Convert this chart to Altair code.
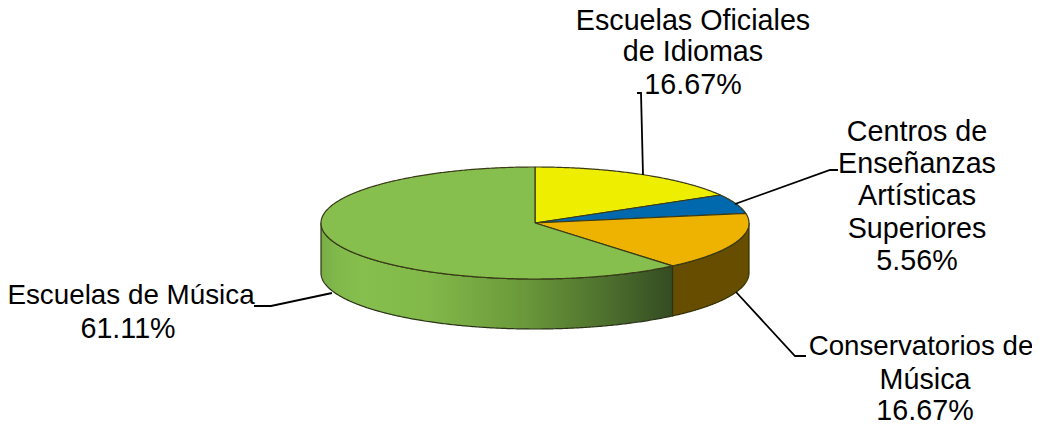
import numpy as np
import pandas as pd
import altair as alt

categories = ["Escuelas Oficiales de Idiomas", "Centros de Enseñanzas Artísticas Superiores",
              "Conservatorios de Música", "Escuelas de Música"]
percent = [16.67, 5.56, 16.67, 61.11]
top_colors = ["#eeee00", "#0068ad", "#eeb200", "#86bf4d"]

# pie layout, in page pixels
CX, CY, RX, RY, DEPTH = 535, 223, 214, 56, 50

label_lines = [
    ("Escuelas Oficiales", 693, 21, 28.7), ("de Idiomas", 693, 52, 28.7), ("16.67%", 693, 85, 28.7),
    ("Centros de", 917, 132, 28.7), ("Enseñanzas", 917, 164, 28.7), ("Artísticas", 917, 196, 28.7),
    ("Superiores", 917, 229, 28.7), ("5.56%", 917, 261, 28.7),
    ("Conservatorios de", 921, 347, 27.7), ("Música", 925, 380, 28.7), ("16.67%", 925, 411, 28.7),
    ("Escuelas de Música", 131, 296, 27.8), ("61.11%", 128, 329, 28.7),
]
leaders = {
    "a": [(637, 93), (641, 93), (643, 175)],
    "b": [(735, 204), (830, 170), (838, 170)],
    "c": [(736, 292), (795, 356), (806, 356)],
    "d": [(254, 306), (271, 306), (332, 293)],
}

X = alt.X("x:Q", scale=alt.Scale(domain=[8, 1032], nice=False, zero=False), axis=None)
Y = alt.Y("y:Q", scale=alt.Scale(domain=[424, 8], nice=False, zero=False), axis=None)


def rim(a0, a1, dy=0.0):
    t = np.radians(np.linspace(a0, a1, max(int(abs(a1 - a0)) * 2, 2) + 1))
    return list(zip(CX + RX * np.sin(t), CY + dy - RY * np.cos(t)))


def poly(pts, fill, stroke, sw=1.2):
    df = pd.DataFrame(pts, columns=["x", "y"])
    df["i"] = range(len(df))
    return alt.Chart(df).mark_line(
        filled=True, fill=fill, stroke=stroke, strokeWidth=sw, interpolate="linear",
        strokeJoin="round", clip=False,
    ).encode(x=X, y=Y, order="i:Q")


cum = np.cumsum([0] + percent) / sum(percent) * 360
layers = []

wall_orange = rim(90, cum[3]) + rim(cum[3], 90, DEPTH)
wall_orange.append(wall_orange[0])
layers.append(poly(wall_orange, "#664d00", "#333000"))
wall_green = rim(cum[3], 270) + rim(270, cum[3], DEPTH)
wall_green.append(wall_green[0])
green_grad = alt.Gradient(
    gradient="linear", x1=0, x2=1, y1=0, y2=0,
    stops=[
        alt.GradientStop(offset=0, color="#78ad45"),
        alt.GradientStop(offset=0.04, color="#80b84b"),
        alt.GradientStop(offset=0.12, color="#86bf4d"),
        alt.GradientStop(offset=0.3, color="#82b94a"),
        alt.GradientStop(offset=0.58, color="#6a983a"),
        alt.GradientStop(offset=0.82, color="#4c6e2d"),
        alt.GradientStop(offset=1, color="#344c22"),
    ],
)
layers.append(poly(wall_green, green_grad, "#2a3218"))

for i, c in enumerate(top_colors):
    pts = [(CX, CY)] + rim(cum[i], cum[i + 1]) + [(CX, CY)]
    layers.append(poly(pts, c, "#3a3a18"))

rows = [{"k": k, "i": i, "x": p[0], "y": p[1]} for k, v in leaders.items() for i, p in enumerate(v)]
layers.append(
    alt.Chart(pd.DataFrame(rows)).mark_line(color="#000000", strokeWidth=1.8, interpolate="linear").encode(
        x=X, y=Y, detail="k:N", order="i:Q"
    )
)

labels = pd.DataFrame(label_lines, columns=["t", "x", "y", "s"])
layers.append(
    alt.Chart(labels).mark_text(
        font="Liberation Sans", color="#000000", align="center", baseline="middle"
    ).encode(x=X, y=Y, text="t:N", size=alt.Size("s:Q", scale=None, legend=None))
)

chart = (
    alt.layer(*layers)
    .properties(width=1024, height=416, padding=0, background="#ffffff", autosize=alt.AutoSizeParams(type="none"))
    .configure_view(strokeWidth=0)
)
chart.save("out.html", embed_options={"renderer": "svg", "actions": False})
